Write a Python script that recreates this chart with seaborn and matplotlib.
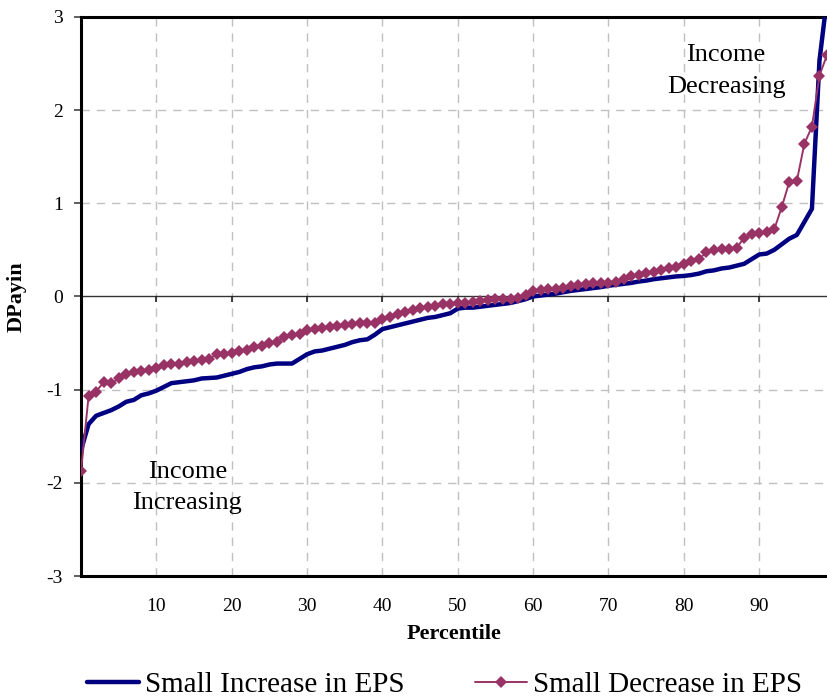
import seaborn as sns
import matplotlib.pyplot as plt
from matplotlib.ticker import FuncFormatter

# Data (DPayin by percentile)
percentile = list(range(100))

small_increase = [
    -1.65, -1.37, -1.28, -1.25, -1.22, -1.18, -1.13, -1.11, -1.06, -1.04,
    -1.01, -0.97, -0.93, -0.92, -0.91, -0.90, -0.88, -0.875, -0.87, -0.85,
    -0.83, -0.81, -0.78, -0.76, -0.75, -0.73, -0.72, -0.72, -0.72, -0.67,
    -0.62, -0.59, -0.58, -0.56, -0.54, -0.52, -0.49, -0.47, -0.46, -0.41,
    -0.35, -0.33, -0.31, -0.29, -0.27, -0.25, -0.23, -0.22, -0.20, -0.18,
    -0.13, -0.12, -0.12, -0.11, -0.10, -0.09, -0.08, -0.07, -0.05, -0.03,
    0.00, 0.01, 0.02, 0.03, 0.045, 0.06, 0.07, 0.08, 0.09, 0.10,
    0.115, 0.125, 0.135, 0.145, 0.16, 0.17, 0.185, 0.195, 0.205, 0.215,
    0.22, 0.23, 0.245, 0.27, 0.28, 0.30, 0.31, 0.33, 0.35, 0.40,
    0.45, 0.46, 0.50, 0.56, 0.62, 0.66, 0.80, 0.94, 2.53, 3.2,
]

small_decrease = [
    -1.87, -1.07, -1.02, -0.92, -0.93, -0.88, -0.83, -0.81, -0.80, -0.79,
    -0.77, -0.74, -0.73, -0.72, -0.70, -0.69, -0.68, -0.67, -0.62, -0.62,
    -0.61, -0.59, -0.57, -0.54, -0.53, -0.50, -0.49, -0.43, -0.41, -0.40,
    -0.365, -0.35, -0.34, -0.33, -0.32, -0.31, -0.30, -0.29, -0.29, -0.285,
    -0.24, -0.22, -0.19, -0.17, -0.15, -0.125, -0.11, -0.10, -0.085, -0.08,
    -0.07, -0.065, -0.055, -0.045, -0.035, -0.03, -0.03, -0.03, -0.015, 0.02,
    0.057, 0.07, 0.075, 0.08, 0.09, 0.115, 0.12, 0.135, 0.14, 0.145,
    0.14, 0.155, 0.19, 0.215, 0.235, 0.25, 0.26, 0.28, 0.30, 0.32,
    0.35, 0.385, 0.40, 0.475, 0.50, 0.51, 0.51, 0.52, 0.63, 0.67,
    0.68, 0.69, 0.72, 0.96, 1.23, 1.24, 1.64, 1.82, 2.37, 2.59,
]

x_ticks = [10, 20, 30, 40, 50, 60, 70, 80, 90]
y_ticks = [-3, -2, -1, 0, 1, 2, 3]

sns.set_style("white")
plt.rcParams['font.family'] = ['Liberation Serif', 'DejaVu Serif']
plt.rcParams['axes.unicode_minus'] = False
for key in ['text.color', 'axes.labelcolor', 'xtick.color', 'ytick.color']:
    plt.rcParams[key] = 'black'

fig = plt.figure(figsize=(8.27, 7.0), dpi=100)
ax = fig.add_axes([0.098, 0.177, 0.902, 0.799])

# Grid lines
for xv in x_ticks:
    ax.axvline(xv, color='#c0c0c0', lw=1, ls=(0, (6, 5)), zorder=0)
for yv in [-2, -1, 1, 2]:
    ax.axhline(yv, color='#c0c0c0', lw=1, ls=(0, (6, 5)), zorder=0)

# Category axis crossing at zero, with its small tick marks
ax.axhline(0, color='#333333', lw=1, zorder=1)
ax.vlines(x_ticks, -0.055, 0, color='#222222', lw=1.2, zorder=1)

sns.lineplot(x=percentile, y=small_increase, ax=ax, color='#000080',
             lw=3.2, label='Small Increase in EPS', zorder=3)
sns.lineplot(x=percentile, y=small_decrease, ax=ax, color='#993366',
             lw=1.4, marker='D', markersize=6, markeredgewidth=0,
             label='Small Decrease in EPS', zorder=4)

ax.set_xlim(0, 99)
ax.set_ylim(-3, 3)

ax.set_xticks(x_ticks)
ax.set_yticks(y_ticks)
ax.yaxis.set_major_formatter(FuncFormatter(lambda v, p: f"{int(v)}"))
ax.tick_params(axis='x', length=0, pad=16, labelsize=14)
ax.tick_params(axis='y', direction='out', length=5, width=1.2, pad=8,
               labelsize=14, left=True, color='#444444')

for side in ['left', 'top', 'bottom']:
    ax.spines[side].set_visible(True)
    ax.spines[side].set_color('black')
    ax.spines[side].set_linewidth(2.2)
ax.spines['right'].set_visible(False)

ax.set_xlabel('Percentile', fontsize=16, fontweight='bold', labelpad=6)
ax.set_ylabel('DPayin', fontsize=16, fontweight='bold', labelpad=14)

ax.text(14.1, -2.05, 'Income\nIncreasing', fontsize=19, ha='center',
        va='center', linespacing=1.55)
ax.text(85.6, 2.42, 'Income\nDecreasing', fontsize=19, ha='center',
        va='center', linespacing=1.55)

leg = ax.legend(loc='center', bbox_to_anchor=(0.487, -0.195), ncol=2,
                frameon=False, fontsize=21, handlelength=1.8,
                handletextpad=0.2, columnspacing=2.4, borderaxespad=0)

fig.savefig('out.png', dpi=100, facecolor='white')
